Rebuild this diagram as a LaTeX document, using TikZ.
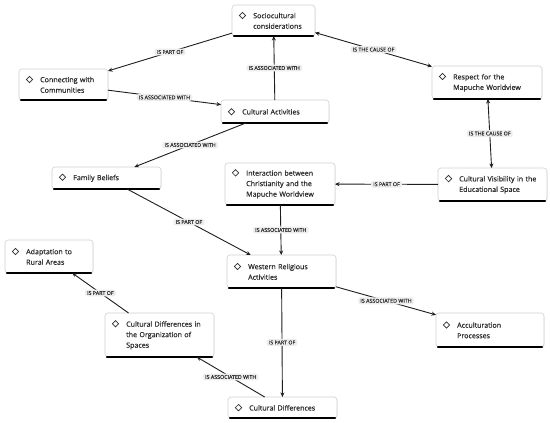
\documentclass[tikz,border=0pt]{standalone}
\usepackage{fontspec}
\setmainfont{Open Sans}
\newfontfamily\nodefont{Open Sans}[FakeBold=0.9]
\newfontfamily\labfont{Open Sans}[FakeBold=0.3]
\usetikzlibrary{arrows.meta,shadows,shapes.geometric}
\definecolor{txtc}{HTML}{2E2E2E}
\definecolor{bord}{HTML}{D0D0D0}
\definecolor{pill}{HTML}{EDEDED}
\definecolor{edgec}{HTML}{1E1E1E}
\newcommand{\concept}[6]{%
  \node[box, minimum width={(#4-#2)*1pt}, minimum height={(#5-#3)*1pt}] (#1) at ({(#2+#4)/2},{(#3+#5)/2}) {};
  \draw[bar] ([xshift=2pt]#1.south west) -- ([xshift=-2pt]#1.south east);
  \node[ntext] (#1-t) at ([xshift=21pt,yshift=-0.3pt]#1.west) {#6};
  \node[dia] (#1-d) at ([xshift=-10.5pt,yshift=-2.8pt]#1-t.north west) {};
}
\begin{document}
\begin{tikzpicture}[x=1pt,y=-1pt,
  box/.style={draw=bord, line width=0.6pt, fill=white, rounded corners=3pt, inner sep=0pt, outer sep=0pt,
    drop shadow={opacity=0.12, shadow xshift=0.6pt, shadow yshift=-0.6pt}},
  bar/.style={draw=black, line width=2.2pt, line cap=round},
  ntext/.style={anchor=west, inner sep=0pt, text width=90pt, align=left, text=txtc, font=\nodefont\fontsize{7.1}{10.5}\selectfont},
  dia/.style={diamond, draw=txtc, line width=0.7pt, minimum size=6.6pt, inner sep=0pt},
  lab/.style={fill=pill, rounded corners=2.5pt, text=txtc, font=\labfont\fontsize{5.3}{6}\selectfont, inner xsep=2.2pt, inner ysep=1.5pt},
  link/.style={draw=edgec, line width=0.9pt, -{Stealth[length=4.5pt,width=4pt]}},
  blink/.style={draw=edgec, line width=0.9pt, {Stealth[length=4.5pt,width=4pt]}-{Stealth[length=4.5pt,width=4pt]}}
]
\fill[white] (0,0) rectangle (550,423);
\useasboundingbox (0,0) rectangle (550,423);

\concept{soc}{232}{5}{315}{36}{Sociocultural\\considerations}
\concept{conn}{19}{69}{108}{100}{Connecting with\\Communities}
\concept{ca}{221}{100}{329}{123}{Cultural Activities}
\concept{resp}{432}{66}{542}{99}{Respect for the\\Mapuche Worldview}
\concept{fb}{52}{167}{161}{189}{Family Beliefs}
\concept{inter}{225}{163}{335}{205}{Interaction between\\Christianity and the\\Mapuche Worldview}
\concept{cv}{438}{168}{547}{201}{Cultural Visibility in the\\Educational Space}
\concept{west}{227}{255}{336}{288}{Western Religious\\Activities}
\concept{adapt}{5}{240}{93}{273}{Adaptation to\\Rural Areas}
\concept{cdo}{105}{313}{214}{357}{Cultural Differences in\\the Organization of\\Spaces}
\concept{acc}{436}{313}{544}{347}{Acculturation\\Processes}
\concept{cd}{228}{397}{337}{418}{Cultural Differences}

\draw[link] (soc) -- node[lab] {IS PART OF} (conn);
\draw[link] (conn) -- node[lab] {IS ASSOCIATED WITH} (ca);
\draw[link] (ca) -- node[lab] {IS ASSOCIATED WITH} (soc);
\draw[blink] (soc) -- node[lab] {IS THE CAUSE OF} (resp);
\draw[blink] (resp) -- node[lab] {IS THE CAUSE OF} (cv);
\draw[link] (cv) -- node[lab] {IS PART OF} (inter);
\draw[link] (ca) -- node[lab] {IS ASSOCIATED WITH} (fb);
\draw[link] (fb) -- node[lab] {IS PART OF} (west);
\draw[link] (inter) -- node[lab] {IS ASSOCIATED WITH} (west);
\draw[link] (west) -- node[lab] {IS ASSOCIATED WITH} (acc);
\draw[link] (west) -- node[lab] {IS PART OF} (cd);
\draw[link] (cd) -- node[lab] {IS ASSOCIATED WITH} (cdo);
\draw[link] (cdo) -- node[lab] {IS PART OF} (adapt);
\end{tikzpicture}
\end{document}
